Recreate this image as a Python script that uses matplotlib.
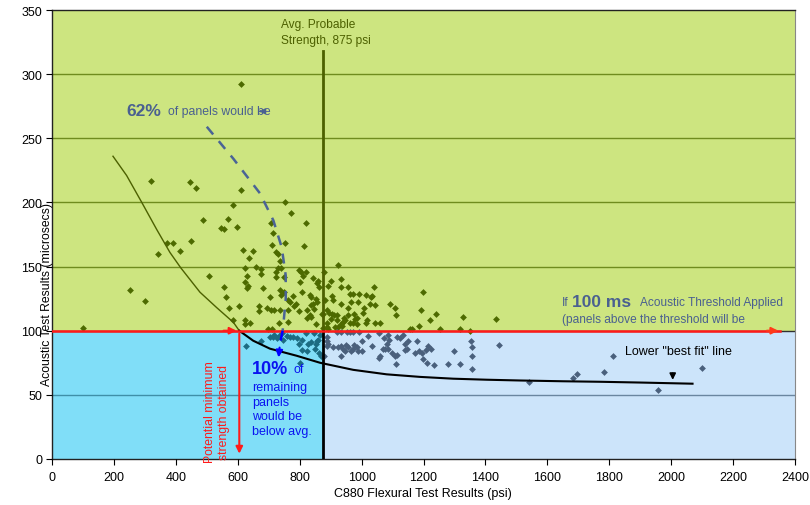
import matplotlib
matplotlib.use("Agg")
import matplotlib.pyplot as plt
import numpy as np

plt.rcParams['font.family'] = ['Liberation Sans', 'DejaVu Sans']

# ---------------- data ----------------
# panels above the 100 microsec threshold (x = psi, y = microsecs)
above_x = [609, 321, 445, 465, 609, 585, 488, 568, 545, 556, 598, 371, 391, 449, 341, 413, 618, 649, 635, 658,
           754, 772, 707, 820, 715, 753, 712, 722, 730, 815, 736, 729, 739, 622, 676, 676, 723, 506, 631, 722,
           749, 799, 804, 820, 810, 844, 860, 857, 863, 622, 633, 629, 802, 556, 680, 737, 751, 740, 806, 705,
           777, 763, 769, 561, 833, 837, 853, 842, 857, 838, 787, 783, 603, 571, 669, 670, 695, 708, 718, 737,
           763, 797, 824, 845, 834, 837, 823, 873, 586, 622, 623, 638, 732, 762, 853, 698, 711,
           923, 879, 932, 901, 892, 932, 956, 1040, 1197, 962, 972, 993, 1013, 1035, 1029, 903, 908, 881, 932,
           967, 990, 1027, 1042, 957, 1007, 1092, 1108, 889, 896, 904, 874, 1004, 1193, 1240, 1112, 1327, 1433,
           976, 984, 979, 943, 957, 920, 910, 1016, 1014, 901, 920, 887, 887, 946, 941, 935, 985, 973, 963,
           1044, 1059, 1222, 1186, 914, 925, 936, 874, 892, 1253, 1318, 1350, 1156, 1162,
           252, 300, 100]
above_y = [292, 217, 216, 211, 210, 198, 186, 187, 180, 179, 181, 168, 168, 170, 160, 162, 163, 162, 157, 150,
           200, 192, 184, 184, 176, 168, 167, 161, 160, 166, 154, 149, 149, 149, 148, 144, 146, 143, 143, 142,
           142, 147, 146, 146, 143, 141, 139, 137, 134, 138, 135, 133, 138, 134, 133, 132, 130, 128, 130, 126,
           127, 124, 122, 126, 128, 126, 125, 121, 122, 120, 121, 119, 119, 118, 119, 115, 118, 116, 116, 116,
           116, 115, 116, 117, 112, 111, 110, 113, 108, 108, 105, 106, 106, 107, 105, 101, 101,
           151, 146, 140, 139, 135, 134, 134, 134, 130, 129, 129, 129, 128, 127, 126, 127, 124, 124, 121,
           122, 122, 121, 120, 118, 118, 121, 118, 116, 114, 113, 113, 114, 116, 113, 112, 111, 109,
           113, 110, 109, 110, 112, 112, 112, 108, 106, 109, 108, 106, 103, 108, 107, 105, 105, 106, 106,
           106, 106, 108, 104, 103, 103, 104, 102, 101, 101, 101, 100, 101, 101,
           132, 123, 102]

# panels below threshold, weaker than average (x < 875)
low_weak_x = [627, 675, 704, 715, 743, 758, 769, 777, 790, 807, 799, 807, 825, 828, 836, 852, 860, 866, 857,
              863, 868, 718, 733, 726, 747, 801, 848, 820, 845]
low_weak_y = [88, 92, 95, 95, 98, 96, 95, 95, 94, 93, 90, 85, 84, 90, 91, 90, 93, 97, 92,
              83, 80, 97, 96, 94, 93, 75, 86, 98, 98]

# panels below threshold, stronger than average (x > 875)
low_strong_x = [889, 889, 892, 887, 878, 919, 935, 952, 962, 973, 993, 1022, 1000, 909, 925, 932, 939, 950, 957,
                965, 946, 976, 973, 984, 989, 1000, 935, 1033, 1057, 1086, 1073, 1088, 1081, 1113, 1124, 1133,
                1140, 1151, 1068, 1076, 1084, 1097, 1108, 1115, 1059, 1055, 1111, 1140, 1148, 1172, 1186, 1194,
                1208, 1216, 1224, 1178, 1199, 1210, 1235, 1280, 1318, 1300, 1354, 1356, 1358, 1358, 1444,
                1813, 1783, 1697, 1682, 1541, 1957, 2100]
low_strong_y = [95, 92, 90, 88, 80, 99, 99, 99, 99, 99, 99, 96, 92, 87, 87, 88, 86, 89, 87,
                84, 84, 89, 86, 87, 84, 84, 80, 88, 98, 97, 94, 93, 90, 95, 94, 97,
                90, 92, 86, 86, 86, 83, 80, 81, 80, 79, 74, 85, 86, 83, 84, 83,
                85, 88, 86, 92, 78, 75, 73, 74, 74, 84, 92, 87, 80, 70, 89,
                80, 68, 66, 63, 60, 54, 71]

# lower "best fit" curve
fit_x = [197, 241, 290, 338, 381, 416, 478, 532, 586, 605, 650, 704, 790, 866, 973, 1081, 1189, 1296,
         1404, 1512, 1650, 1770, 1900, 2069]
fit_y = [236, 221, 200, 179, 161, 149, 130, 118, 106.5, 100, 92.2, 86, 80.5, 75, 69.5, 66, 64, 62.6,
         61.8, 61.2, 60.6, 60.2, 59.6, 58.7]

# dashed "62%" guide curve
guide_x = [500, 586, 672, 715, 742, 755, 755, 749, 745]
guide_y = [259, 234, 207, 186, 165, 143, 125, 109, 100]
guide2_x = [745, 740, 736]
guide2_y = [100, 94, 88]

avg_strength = 875
threshold = 100
min_strength = 605

x_ticks = list(range(0, 2401, 200))
y_ticks = list(range(0, 351, 50))

# ---------------- colors ----------------
c_green_bg = '#cde580'
c_cyan_bg = '#80def8'
c_blue_bg = '#cce4fa'
c_green_pt = '#4d6a00'
c_teal_pt = '#1c6c82'
c_slate_pt = '#4a607c'
c_olive = '#4c6000'
c_slate_txt = '#4a6090'

fig = plt.figure(figsize=(8.1, 5.06), dpi=100)
ax = fig.add_axes([52/810, 46/506, 743/810, 449/506])
ax.set_xlim(0, 2400)
ax.set_ylim(0, 350)

# background regions
ax.fill_between([0, 2400], threshold, 350, color=c_green_bg, zorder=0, lw=0)
ax.fill_between([0, avg_strength], 0, threshold, color=c_cyan_bg, zorder=0, lw=0)
ax.fill_between([avg_strength, 2400], 0, threshold, color=c_blue_bg, zorder=0, lw=0)

# gridlines
for yv in y_ticks[1:-1]:
    if yv > threshold:
        ax.plot([0, 2400], [yv, yv], color='#6f8c1e', lw=1, zorder=1)
    elif yv < threshold:
        ax.plot([0, avg_strength], [yv, yv], color='#3f8fa8', lw=1, zorder=1)
        ax.plot([avg_strength, 2400], [yv, yv], color='#6a86a0', lw=1, zorder=1)
ax.plot([0, 2400], [threshold, threshold], color='#303030', lw=1, zorder=1)

# scatter
ax.scatter(above_x, above_y, marker='D', s=12, color=c_green_pt, zorder=3, lw=0)
ax.scatter(low_weak_x, low_weak_y, marker='D', s=12, color=c_teal_pt, zorder=3, lw=0)
ax.scatter(low_strong_x, low_strong_y, marker='D', s=12, color=c_slate_pt, zorder=3, lw=0)

# best fit curve: olive above threshold, black below
split = fit_x.index(min_strength)
ax.plot(fit_x[:split + 1], fit_y[:split + 1], color='#4c6000', lw=1, zorder=4)
ax.plot(fit_x[split:], fit_y[split:], color='black', lw=1.5, zorder=4)

# average strength vertical line
ax.plot([avg_strength, avg_strength], [threshold, 318], color=c_olive, lw=2, zorder=5)
ax.plot([avg_strength, avg_strength], [0, threshold], color='black', lw=2, zorder=5)

# red threshold line with arrows
ax.plot([0, 2350], [threshold, threshold], color='#ff1a1a', lw=1.8, zorder=6)
ax.annotate('', xy=(min_strength, threshold), xytext=(min_strength - 60, threshold),
            arrowprops=dict(arrowstyle='-|>', color='#ff1a1a', lw=1.5, mutation_scale=10), zorder=7)
ax.annotate('', xy=(2355, threshold), xytext=(2300, threshold),
            arrowprops=dict(arrowstyle='-|>', color='#ff3a1a', lw=1.5, mutation_scale=10), zorder=7)
# red vertical arrow
ax.annotate('', xy=(min_strength, 2), xytext=(min_strength, threshold),
            arrowprops=dict(arrowstyle='-|>', color='#ff1a1a', lw=1.5, mutation_scale=10), zorder=7)

# dashed guide
ax.plot(guide_x, guide_y, color='#4a6496', lw=1.8, ls=(0, (4, 3.5)), zorder=6)
ax.plot(guide2_x, guide2_y, color='#0000ff', lw=1.8, ls=(0, (4, 3.5)), zorder=6)
ax.annotate('', xy=(731, 77), xytext=(736, 89),
            arrowprops=dict(arrowstyle='-|>', color='#0000ff', lw=1.5, mutation_scale=10), zorder=7)
ax.annotate('', xy=(660, 271), xytext=(682, 271),
            arrowprops=dict(arrowstyle='-|>', color='#4a6496', lw=1.2, mutation_scale=8), zorder=7)

# texts
ax.text(740, 339, 'Avg. Probable', color=c_olive, fontsize=8.6, va='center', ha='left', zorder=8)
ax.text(740, 326.5, 'Strength, 875 psi', color=c_olive, fontsize=8.6, va='center', ha='left', zorder=8)

ax.text(239, 272, '62%', color=c_slate_txt, fontsize=12.5, fontweight='bold', va='center', ha='left', zorder=8)
ax.text(375, 271, 'of panels would be', color=c_slate_txt, fontsize=8.8, va='center', ha='left', zorder=8)

ax.text(1646, 122, 'If', color=c_slate_txt, fontsize=8.6, va='center', ha='left', zorder=8)
ax.text(1680, 123, '100 ms', color=c_slate_txt, fontsize=12.5, fontweight='bold', va='center', ha='left', zorder=8)
ax.text(1899, 122, 'Acoustic Threshold Applied', color=c_slate_txt, fontsize=8.6, va='center', ha='left', zorder=8)
ax.text(1646, 109, '(panels above the threshold will be', color=c_slate_txt, fontsize=8.6, va='center',
        ha='left', zorder=8)

ax.text(1851, 84.4, 'Lower "best fit" line', color='black', fontsize=9, va='center', ha='left', zorder=8)
ax.annotate('', xy=(2005, 59.5), xytext=(2005, 69),
            arrowprops=dict(arrowstyle='-|>', color='black', lw=1.2, mutation_scale=9), zorder=8)

ax.text(646, 70.5, '10%', color='#0a14f0', fontsize=13, fontweight='bold', va='center', ha='left', zorder=8)
ax.text(779, 70.5, 'of', color='#0a14f0', fontsize=9, va='center', ha='left', zorder=8)
for txt, yv in zip(['remaining', 'panels', 'would be', 'below avg.'], [56, 44.5, 33.3, 21.8]):
    ax.text(646, yv, txt, color='#0a14f0', fontsize=9, va='center', ha='left', zorder=8)

ax.text(510, 37, 'Potential minimum', color='#ff1a1a', fontsize=8.8, rotation=90, va='center', ha='center',
        zorder=8)
ax.text(554, 37, 'strength obtained', color='#ff1a1a', fontsize=8.8, rotation=90, va='center', ha='center',
        zorder=8)

# axes styling
ax.set_xticks(x_ticks)
ax.set_yticks(y_ticks)
ax.tick_params(axis='x', direction='out', length=4, width=0.8, labelsize=9, colors='black', pad=5)
ax.tick_params(axis='y', direction='out', length=4, width=0.8, labelsize=9, colors='black', pad=3)
for s in ['left', 'bottom', 'top']:
    ax.spines[s].set_color('#222222')
    ax.spines[s].set_linewidth(1)
ax.spines['right'].set_color('#888888')
ax.set_axisbelow(False)

fig.text(423/810, 1 - 494/506, 'C880 Flexural Test Results (psi)', fontsize=9, ha='center', va='center')
fig.text(47/810, 1 - 295/506, 'Acoustic Test Results (microsecs)', fontsize=8.8, ha='center', va='center',
         rotation=90)

fig.savefig('out.png', dpi=100)
